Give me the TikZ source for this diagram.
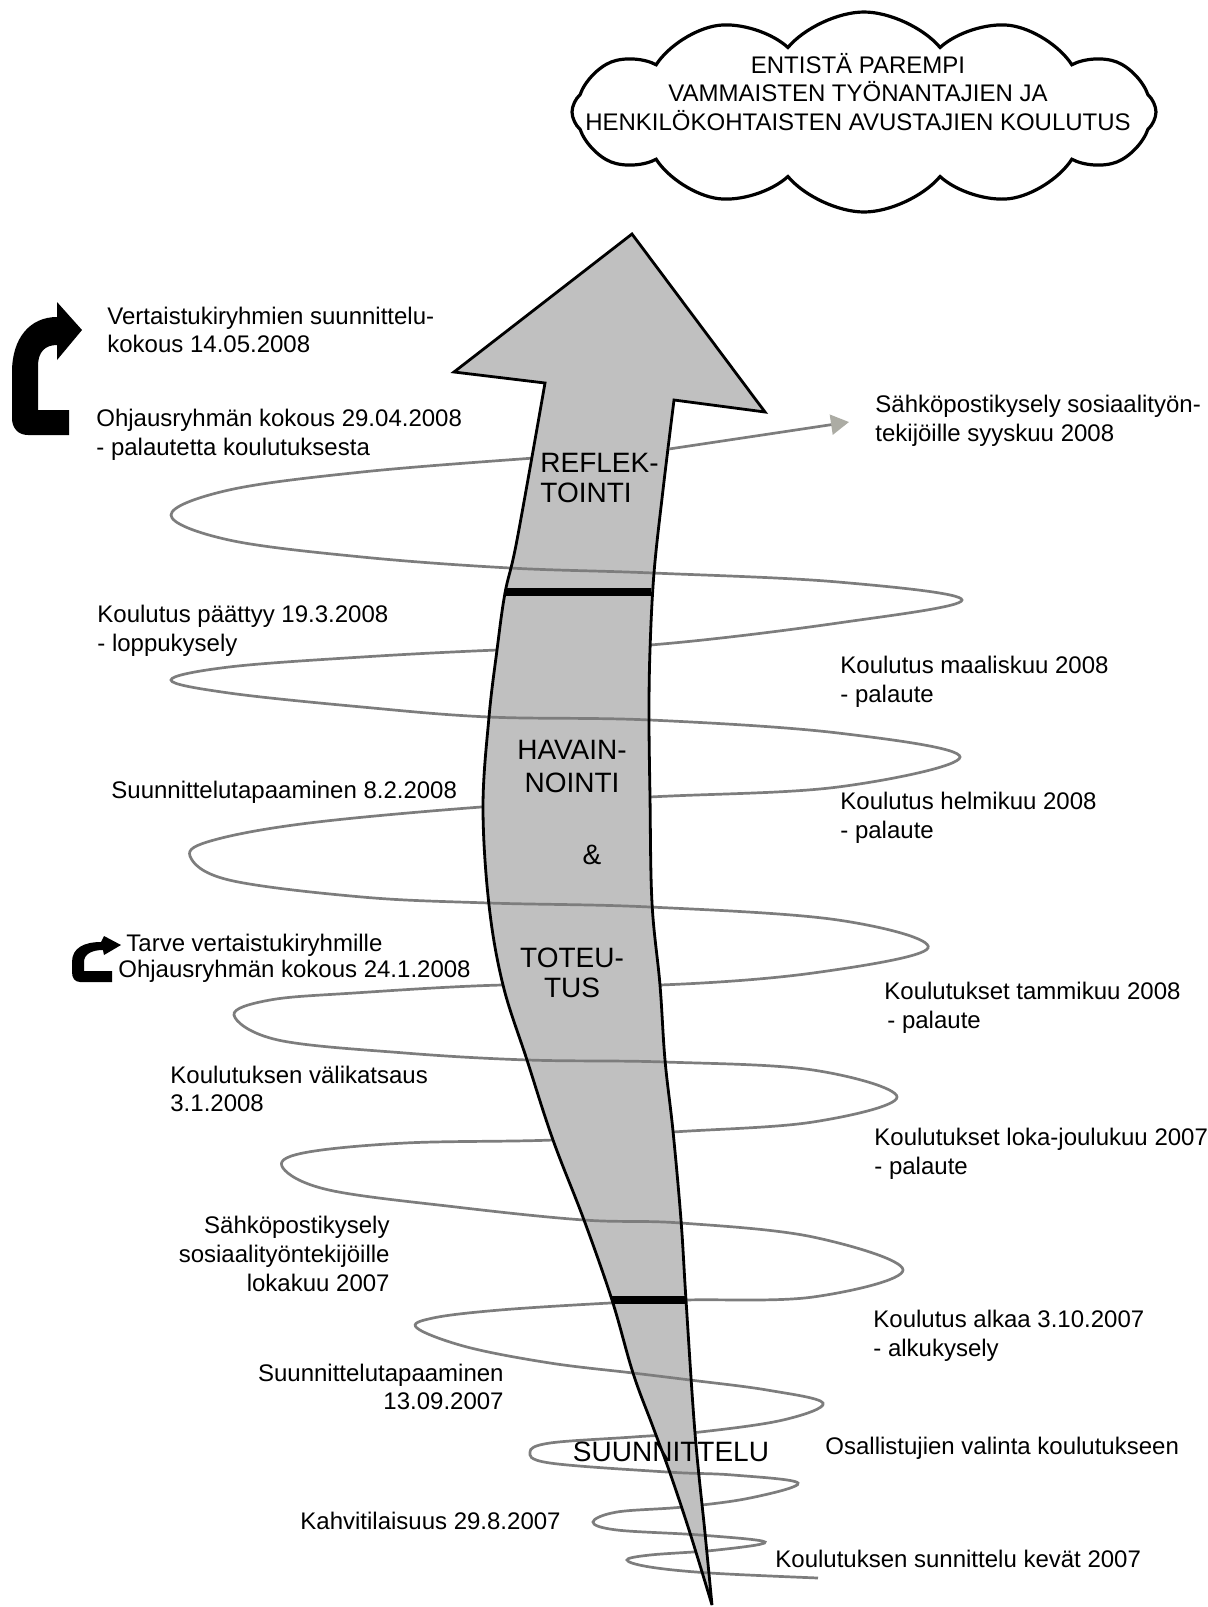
\documentclass[tikz,border=0pt]{standalone}
\usepackage{fontspec}
\setmainfont{Liberation Sans}
\usetikzlibrary{shapes.symbols,arrows.meta}
\definecolor{spiralgray}{RGB}{125,125,125}
\definecolor{arrowgray}{RGB}{192,192,192}
\definecolor{tipgray}{RGB}{172,172,164}
\def\bigarrowpath{(632,234) -- (765,412) -- (674,400) -- plot[smooth,tension=0.6] coordinates {(674,400) (663,490) (654,573) (650,650) (649,717) (650,797) (652,903) (660,985) (665,1060) (673,1131) (681,1220) (686,1300) (695,1433) (705,1533) (712,1605)} -- plot[smooth,tension=0.6] coordinates {(712,1605) (690,1533) (670,1473) (653,1427) (633,1373) (612,1300) (584,1220) (553,1140) (527,1060) (503,985) (489,905) (483,807) (489,717) (497,650) (505,593) (517,540) (545,383)} -- (454,372) -- cycle}
\begin{document}
\begin{tikzpicture}[x=0.5pt,y=-0.5pt,
  spiral/.style={draw=spiralgray, line width=1.35pt},
  arrowbody/.style={fill=arrowgray},
  arrowline/.style={draw=black, line width=1.4pt, line join=miter},
  phasebar/.style={draw=black, line width=4pt},
  bentarrow/.style={fill=black},
  lbl/.style={font=\fontsize{12}{14.4}\selectfont, inner sep=0pt, align=left, anchor=west},
  lblr/.style={font=\fontsize{12}{14.4}\selectfont, inner sep=0pt, align=right, anchor=east},
  phase/.style={font=\fontsize{14}{15}\selectfont, inner sep=0pt, align=center},
  goalcloud/.style={draw=black, cloud, cloud puffs=12, cloud puff arc=100, aspect=3, line width=1.6pt, minimum width=292pt, minimum height=100pt, inner sep=0pt, shape border rotate=8},
  goaltext/.style={font=\fontsize{12}{14.4}\selectfont, inner sep=0pt, align=center}
]
\useasboundingbox (0,0) rectangle (1208,1607);

% goal cloud
\node[goalcloud] (cloud) at (864,112) {};
\node[goaltext] (goal) at (858,92) {ENTISTÄ PAREMPI\\VAMMAISTEN TYÖNANTAJIEN JA\\HENKILÖKOHTAISTEN AVUSTAJIEN KOULUTUS};

% spiral (whole)
\draw[spiral] plot[smooth,tension=0.6] coordinates {(669,449) (534,458) (362,472) (229,490) (171,515) (229,540) (362,557) (510,568) (653,573) (838,582) (962,600) (838,623) (650,645) (497,650) (362,657) (229,667) (171,680) (229,693) (362,707) (489,717) (650,720) (838,733) (960,757) (838,787) (650,797) (481,807) (309,823) (214,840) (190,856) (229,880) (362,897) (489,903) (650,907) (838,920) (928,948) (813,973) (660,985) (502,985) (354,993) (270,1000) (234,1015) (278,1040) (405,1053) (528,1060) (665,1062) (813,1070) (897,1097) (813,1122) (673,1132) (553,1140) (405,1143) (303,1153) (283,1168) (329,1190) (456,1207) (584,1220) (681,1223) (813,1237) (903,1270) (813,1297) (686,1300) (610,1303) (500,1310) (433,1318) (417,1328) (467,1347) (550,1363) (633,1373) (690,1380) (767,1390) (823,1403) (783,1420) (700,1432) (633,1437) (550,1443) (530,1452) (550,1463) (667,1472) (733,1475) (798,1483) (750,1498) (683,1507) (617,1512) (593,1522) (617,1530) (700,1535) (765,1542) (717,1550) (650,1555) (627,1560) (650,1567) (710,1573) (818,1578)};

% big arrow body
\fill[arrowbody] \bigarrowpath;

% front strands over the arrow body
\begin{scope}
\clip \bigarrowpath;
\draw[spiral] plot[smooth,tension=0.6] coordinates {(229,490) (171,515) (229,540) (362,557) (510,568) (653,573) (838,582) (962,600) (838,623)};
\draw[spiral] plot[smooth,tension=0.6] coordinates {(229,667) (171,680) (229,693) (362,707) (489,717) (650,720) (838,733) (960,757) (838,787)};
\draw[spiral] plot[smooth,tension=0.6] coordinates {(214,840) (190,856) (229,880) (362,897) (489,903) (650,907) (838,920) (928,948) (813,973)};
\draw[spiral] plot[smooth,tension=0.6] coordinates {(270,1000) (234,1015) (278,1040) (405,1053) (528,1060) (665,1062) (813,1070) (897,1097) (813,1122)};
\draw[spiral] plot[smooth,tension=0.6] coordinates {(303,1153) (283,1168) (329,1190) (456,1207) (584,1220) (681,1223) (813,1237) (903,1270) (813,1297)};
\draw[spiral] plot[smooth,tension=0.6] coordinates {(433,1318) (417,1328) (467,1347) (550,1363) (633,1373) (690,1380) (767,1390) (823,1403) (783,1420)};
\draw[spiral] plot[smooth,tension=0.6] coordinates {(550,1443) (530,1452) (550,1463) (667,1472) (733,1475) (798,1483) (750,1498)};
\draw[spiral] plot[smooth,tension=0.6] coordinates {(617,1512) (593,1522) (617,1530) (700,1535) (765,1542) (717,1550)};
\draw[spiral] plot[smooth,tension=0.6] coordinates {(650,1555) (627,1560) (650,1567) (710,1573) (818,1578)};
\end{scope}

% big arrow outline and phase bars
\draw[arrowline] \bigarrowpath;
\coordinate (bar1l) at (505,592);
\coordinate (bar1r) at (651,592);
\coordinate (bar2l) at (612,1300);
\coordinate (bar2r) at (686,1300);
\draw[phasebar] (bar1l) -- (bar1r);
\draw[phasebar] (bar2l) -- (bar2r);

% grey arrow to e-mail survey
\coordinate (spiraltop) at (669,449);
\coordinate (emailtip) at (849,422);
\draw[spiral, -{Triangle[length=9pt,width=10pt,color=tipgray]}] (spiraltop) -- (emailtip);

% bent black arrows
\fill[bentarrow] (69,435) -- (28,435) .. controls (18,435) and (12,428) .. (12,418) -- (12,372) .. controls (12,338) and (30,317) .. (57,317) -- (57,302) -- (82,330) -- (57,360) -- (57,345) .. controls (45,345) and (38,352) .. (38,366) -- (38,410) -- (69,410) -- cycle;
\fill[bentarrow] (112,982) -- (80,982) .. controls (75,982) and (72,978) .. (72,972) -- (72,962) .. controls (72,948) and (84,942) .. (101,942) -- (104,936) -- (121,945) -- (104,955) -- (103,950) .. controls (92,950) and (84,954) .. (84,962) -- (84,971) -- (112,971) -- cycle;

% phase labels
\node[phase, align=left, anchor=west] (refl) at (540,478) {REFLEK-\\TOINTI};
\node[phase] (hav) at (572,766) {HAVAIN-\\[1.5pt]NOINTI};
\node[phase] (amp) at (592,855) {\&};
\node[phase] (tot) at (572,973) {TOTEU-\\TUS};
\node[phase] (suun) at (671,1452) {SUUNNITTELU};

% left labels
\node[lbl] (t1) at (107,330) {Vertaistukiryhmien suunnittelu-\\kokous 14.05.2008};
\node[lbl] (t2) at (96,435) {Ohjausryhmän kokous 29.04.2008\\- palautetta koulutuksesta};
\node[lbl] (t3) at (97,631) {Koulutus päättyy 19.3.2008\\- loppukysely};
\node[lbl] (t4) at (111,792) {Suunnittelutapaaminen 8.2.2008};
\node[lbl] (t5a) at (126,945) {Tarve vertaistukiryhmille};
\node[lbl] (t5b) at (118,971) {Ohjausryhmän kokous 24.1.2008};
\node[lbl] (t6) at (170,1089) {Koulutuksen välikatsaus\\3.1.2008};
\node[lblr] (t7) at (390,1254) {Sähköpostikysely\\sosiaalityöntekijöille\\lokakuu 2007};
\node[lblr] (t8) at (504,1387) {Suunnittelutapaaminen\\13.09.2007};
\node[lblr] (t9) at (561,1521) {Kahvitilaisuus 29.8.2007};

% right labels
\node[lbl] (t10) at (875,421) {Sähköpostikysely sosiaalityön-\\tekijöille syyskuu 2008};
\node[lbl] (t11) at (840,682) {Koulutus maaliskuu 2008\\- palaute};
\node[lbl] (t12) at (840,818) {Koulutus helmikuu 2008\\- palaute};
\node[lbl] (t13) at (884,1008) {Koulutukset tammikuu 2008\\\hspace*{1.5pt}- palaute};
\node[lbl] (t14) at (874,1154) {Koulutukset loka-joulukuu 2007\\- palaute};
\node[lbl] (t15) at (873,1336) {Koulutus alkaa 3.10.2007\\- alkukysely};
\node[lbl] (t16) at (825,1448) {Osallistujien valinta koulutukseen};
\node[lbl] (t17) at (775,1559) {Koulutuksen sunnittelu kevät 2007};
\end{tikzpicture}
\end{document}
